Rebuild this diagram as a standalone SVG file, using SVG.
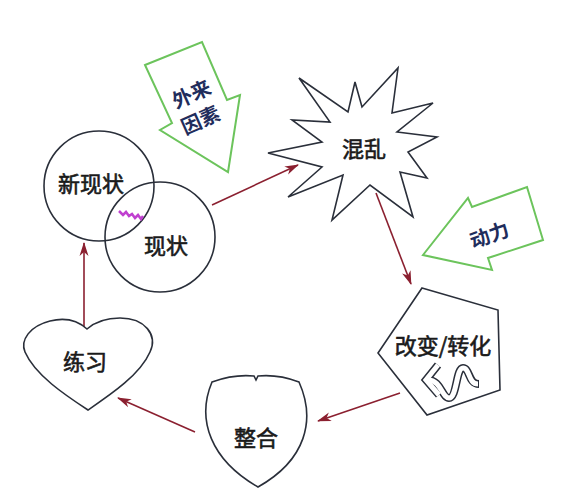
<svg xmlns="http://www.w3.org/2000/svg" width="577" height="495" viewBox="0 0 577 495">
<defs>
<style>
.shape{fill:#fff;stroke:#2a2f3a;stroke-width:1.6;stroke-linejoin:miter}
.green{fill:#fff;stroke:#6cc45c;stroke-width:2}
.lbl{font-family:"Noto Sans CJK SC","Noto Sans CJK JP",sans-serif;font-size:22px;fill:#1a1a1a;stroke:#1a1a1a;stroke-width:0.6;text-anchor:middle;dominant-baseline:central}
.glbl{font-family:"Noto Sans CJK SC","Noto Sans CJK JP",sans-serif;font-size:20px;font-weight:bold;fill:#1f2d5c;text-anchor:middle;dominant-baseline:central}
.conn{stroke:#8b2030;stroke-width:1.6;fill:none;marker-end:url(#ah)}
.ico{fill:none;stroke-linejoin:miter;stroke-linecap:butt}
</style>
<marker id="ah" markerUnits="userSpaceOnUse" markerWidth="14" markerHeight="10" refX="13" refY="5" orient="auto">
<path d="M0,0.5 L14,5 L0,9.5 L4,5 Z" fill="#8b2030"/>
</marker>
</defs>
<rect width="577" height="495" fill="#fff"/>

<g id="connectors">
<line class="conn" x1="212" y1="205" x2="298" y2="165"/>
<line class="conn" x1="376" y1="193" x2="411" y2="284"/>
<line class="conn" x1="400" y1="393" x2="318" y2="421"/>
<line class="conn" x1="195" y1="432" x2="118" y2="398"/>
<line class="conn" x1="84" y1="328" x2="84" y2="243"/>
</g>

<g id="external-factor">
<polygon class="green" points="145,65 202,42 227,100 240,95 228,172 160,130 172,123"/>
<text class="glbl" transform="translate(191,93) rotate(-24)">外来</text>
<text class="glbl" transform="translate(200,119) rotate(-24)">因素</text>
</g>

<g id="momentum">
<polygon class="green" points="423,255 468,198 472,207 527,187 543,240 488,258 492,270"/>
<text class="glbl" transform="translate(489,234) rotate(-20)">动力</text>
</g>

<g id="chaos">
<polygon class="shape" points="299,78 348,112 355,82 362,107 398,68 392,113 433,103 397,132 437,137 408,152 427,178 400,172 413,217 370,185 332,220 343,175 288,197 322,167 268,153 322,142 292,120 330,122"/>
<text class="lbl" x="364" y="147">混乱</text>
</g>

<g id="new-status">
<circle class="shape" cx="99" cy="186" r="55" style="fill:none"/>
<text class="lbl" x="91" y="182">新现状</text>
</g>

<g id="status">
<circle class="shape" cx="160" cy="237" r="55" style="fill:none"/>
<text class="lbl" x="166" y="244">现状</text>
<path d="M119,211 l4,4 l3,-3 l3,4 l3,-2 l3,4 l3,-3 l3,4 l2,-3" fill="none" stroke="#c040d0" stroke-width="2.5"/>
</g>

<g id="change">
<polygon class="shape" points="422,288 498,310 500,390 427,415 378,353"/>
<text class="lbl" x="443" y="344">改变/转化</text>
<path class="ico" d="M438,365 L426,380 L439,395" stroke="#2a2f3a" stroke-width="8"/>
<path class="ico" d="M428,380 C441,380 442,398 449,398 C457,398 456,368 463,368 C470,368 468,384 479,384" stroke="#2a2f3a" stroke-width="8"/>
<path class="ico" d="M438,365 L426,380 L439,395" stroke="#fff" stroke-width="5"/>
<path class="ico" d="M428,380 C441,380 442,398 449,398 C457,398 456,368 463,368 C470,368 468,384 478,384" stroke="#fff" stroke-width="5"/>
</g>

<g id="integration">
<path class="shape" d="M212,382 Q234,374 254,376 L256,380 L258,376 Q278,374 299,382 C316,420 306,460 258,487 C211,460 196,420 212,382 Z"/>
<text class="lbl" x="256" y="436">整合</text>
</g>

<g id="practice">
<path class="shape" d="M87,329 C75,318 62,318 50,321 C30,326 20,340 25,352 C35,375 65,395 88,410 C110,395 140,375 150,352 C158,335 145,318 120,318 C105,318 95,322 87,329 Z"/>
<text class="lbl" x="85" y="360">练习</text>
</g>
</svg>
